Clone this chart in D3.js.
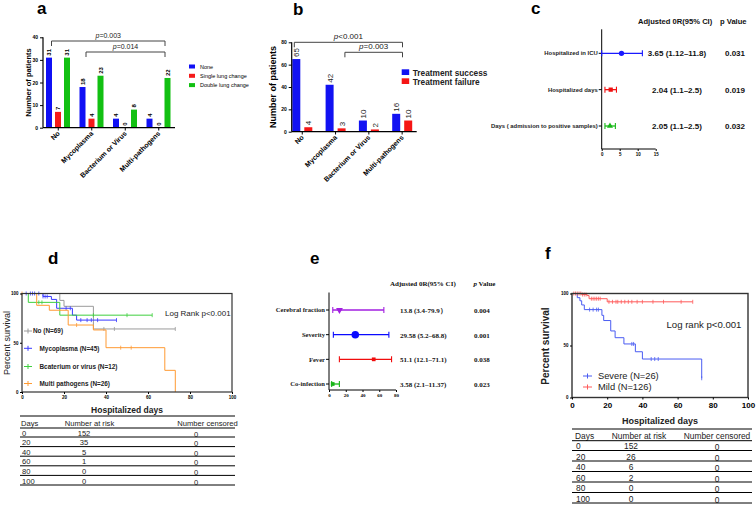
<!DOCTYPE html>
<html>
<head>
<meta charset="utf-8">
<script src="https://cdn.jsdelivr.net/npm/d3@7"></script>
<style>
body { margin: 0; background: #fff; }
text { font-family: "Liberation Sans", Arial, sans-serif; }
</style>
</head>
<body>
<div id="chart"></div>
<script>
// ---- panel a: lung change by pathogen
const groups = ["No", "Mycoplasma", "Bacterium or Virus", "Multi-pathogens"];
const seriesA = ["None", "Single lung change", "Double lung change"];
const noneA = [31, 18, 4, 4];
const singleA = [7, 4, 0, 0];
const doubleA = [31, 23, 8, 22];
const ticksA = [0, 10, 20, 30, 40];

// ---- panel b: treatment outcome by pathogen
const seriesB = ["Treatment success", "Treatment failure"];
const successB = [65, 42, 10, 16];
const failureB = [4, 3, 2, 10];
const ticksB = [0, 20, 40, 60, 80];

// ---- panel c: forest plot
const factorsC = ["Hospitalized in ICU", "Hospitalized days", "Days ( admission to positive samples)"];
const pointC = [5.5, 2.5, 2.3];
const lowC = [0, 0.9, 0.9];
const highC = [11.3, 4.1, 3.8];
const orTextC = ["3.65 (1.12\u201311.8)", "2.04 (1.1\u20132.5)", "2.05 (1.1\u20132.5)"];
const pTextC = ["0.031", "0.019", "0.032"];
const ticksC = [0, 5, 10, 15];

// ---- panel e: forest plot
const factorsE = ["Cerebral fraction", "Severity", "Fever", "Co-infection"];
const pointE = [12.5, 31.4, 53.4, 4.4];
const lowE = [4.5, 5.2, 12.4, 3.2];
const highE = [65.5, 71.5, 74.7, 12.4];
const orTextE = ["13.8 (3.4-79.9\uFF09", "29.58 (5.2\u201368.8)", "51.1 (12.1\u201371.1)", "3.58 (2.1\u201311.37)"];
const pTextE = ["0.004", "0.001", "0.038", "0.023"];
const ticksE = [0, 20, 40, 60, 80];

// ---- panel d: survival by pathogen  (steps = [day, percent])
const namesD = ["No (N=69)", "Mycoplasma (N=45)", "Bcaterium or virus (N=12)", "Multi pathogens (N=26)"];
const stepsNo = [[0, 100], [18, 93], [20, 87], [34, 64]];
const censNo = [39, 44, 73];
const stepsMyco = [[0, 100], [10, 97], [14, 94], [16.5, 85], [24, 78], [26, 73]];
const censMyco = [2, 4, 5, 6, 8, 10, 11, 12, 21, 23, 28, 31, 33, 36, 45];
const stepsBact = [[0, 100], [3, 91], [18, 78]];
const censBact = [8, 9.5, 34, 50, 62];
const stepsMulti = [[0, 100], [7, 88], [13, 83], [22, 68], [34, 63], [40, 45], [68, 22], [73, 0]];
const censMulti = [0, 26, 47, 52];
const endD = [73, 45, 62, 73];

// ---- panel f: survival by severity
const namesF = ["Severe (N=26)", "Mild (N=126)"];
const stepsSevere = [[0, 100], [3, 96], [4.5, 93], [5.5, 89], [7, 84.5], [17, 79], [18, 74], [22, 64], [24.5, 57.5], [29.5, 51.5], [36, 44], [40, 37], [73.7, 18.5]];
const censSevere = [10, 12, 14, 15, 34, 35, 45, 47, 49, 73.7];
const stepsMild = [[0, 100], [5.5, 99], [8.6, 98], [9.7, 95], [20, 92]];
const censMild = [1, 2, 3, 4, 5, 6, 7, 8, 11, 12, 13, 14, 15, 16, 21, 23, 25, 26, 28, 30, 32, 34, 37, 40, 46, 52, 62, 68.6];
const endF = [73.7, 68.6];

// ---- risk tables
const riskDays = [0, 20, 40, 60, 80, 100];
const atRiskD = [152, 35, 5, 1, 0, 0];
const censoredD = [0, 0, 0, 0, 0, 0];
const atRiskF = [152, 26, 6, 2, 0, 0];
const censoredF = [0, 0, 0, 0, 0, 0];

const svg = d3.select("#chart").append("svg")
    .attr("width", 756)
    .attr("height", 505)
    .style("background-color", "white");

function letter(t, x, y) {
    svg.append("text").attr("x", x).attr("y", y)
        .attr("font-size", 17).attr("font-weight", "bold").text(t);
}

function styleAxis(g, size, bold, family) {
    g.selectAll("text")
        .attr("font-size", size)
        .attr("font-weight", bold ? "bold" : "normal")
        .attr("fill", "#000");
    if (family) g.selectAll("text").style("font-family", family);
    g.selectAll("line").attr("stroke", "#000");
    g.select(".domain").remove();
}

function hline(x1, x2, y, w, color) {
    return svg.append("line").attr("x1", x1).attr("x2", x2).attr("y1", y).attr("y2", y)
        .attr("stroke", color || "#000").attr("stroke-width", w || 1);
}
function vline(x, y1, y2, w, color) {
    return svg.append("line").attr("x1", x).attr("x2", x).attr("y1", y1).attr("y2", y2)
        .attr("stroke", color || "#000").attr("stroke-width", w || 1);
}

function bracket(x1, x2, y, op, val, size) {
    svg.append("path")
        .attr("d", "M" + x1 + "," + (y + 5) + "V" + y + "H" + x2 + "V" + (y + 5))
        .attr("fill", "none").attr("stroke", "#444").attr("stroke-width", 1);
    const t = svg.append("text").attr("x", (x1 + x2) / 2).attr("y", y - 3)
        .attr("text-anchor", "middle").attr("font-size", size).attr("fill", "#222");
    t.append("tspan").attr("font-style", "italic").text("p");
    t.append("tspan").text(op + val);
}

// ================= panel a =================
function drawA() {
    letter("a", 37, 14);
    const x = d3.scaleBand().domain(groups).range([41.5, 175.5]);
    const inner = d3.scaleBand().domain(seriesA).range([4.5, 28.5]).paddingInner(1 / 3);
    const y = d3.scaleLinear().domain([0, 40]).range([127.7, 37.3]);
    const colors = ["#1010f5", "#f51a1a", "#12c012"];
    const vals = [noneA, singleA, doubleA];

    seriesA.forEach((s, si) => {
        groups.forEach((g, gi) => {
            const v = vals[si][gi];
            const bx = x(g) + inner(s);
            svg.append("rect").attr("x", bx).attr("y", y(v))
                .attr("width", inner.bandwidth()).attr("height", y(0) - y(v))
                .attr("fill", colors[si]);
            svg.append("text")
                .attr("transform", "translate(" + (bx + inner.bandwidth() / 2 + 2) + "," + (y(v) - 2) + ") rotate(-90)")
                .attr("font-size", 6).attr("font-weight", "bold").text(v);
        });
    });

    const gy = svg.append("g").attr("transform", "translate(43,0)")
        .call(d3.axisLeft(y).tickValues(ticksA).tickSize(3).tickPadding(2));
    styleAxis(gy, 5, true);
    vline(43, 37.3, 127.7, 1.2);
    hline(43, 175, 127.7, 1.2);

    groups.forEach(g => {
        const cx = x(g) + x.bandwidth() / 2;
        vline(cx, 127.7, 130.5);
        svg.append("text")
            .attr("transform", "translate(" + (cx + 2) + ",134) rotate(-45)")
            .attr("text-anchor", "end").attr("font-size", 7).attr("font-weight", "bold").text(g);
    });

    svg.append("text").attr("transform", "translate(31,82.5) rotate(-90)")
        .attr("text-anchor", "middle").attr("font-size", 7.5).attr("font-weight", "bold")
        .text("Number of patients");

    bracket(x("No") + 10, x("Multi-pathogens") + 23, 41, "=", "0.003", 7);
    bracket(x("Mycoplasma") + 11, x("Multi-pathogens") + 23, 52, "=", "0.014", 7);

    seriesA.forEach((s, i) => {
        svg.append("rect").attr("x", 189).attr("y", 64.5 + i * 9.3).attr("width", 6).attr("height", 4)
            .attr("fill", colors[i]);
        svg.append("text").attr("x", 200).attr("y", 68.5 + i * 9.3).attr("font-size", 5.5).text(s);
    });
}

// ================= panel b =================
function drawB() {
    letter("b", 293, 15);
    const x = d3.scaleBand().domain(groups).range([285.6, 418.8]);
    const inner = d3.scaleBand().domain(seriesB).range([6.7, 26.7]).paddingInner(1 / 3);
    const y = d3.scaleLinear().domain([0, 80]).range([131.7, 42.3]);
    const colors = ["#1212f2", "#f51515"];
    const vals = [successB, failureB];

    seriesB.forEach((s, si) => {
        groups.forEach((g, gi) => {
            const v = vals[si][gi];
            const bx = x(g) + inner(s);
            svg.append("rect").attr("x", bx).attr("y", y(v))
                .attr("width", inner.bandwidth()).attr("height", y(0) - y(v))
                .attr("fill", colors[si]);
            svg.append("text")
                .attr("transform", "translate(" + (bx + inner.bandwidth() / 2 + 3) + "," + (y(v) - 2) + ") rotate(-90)")
                .attr("font-size", 8).attr("fill", "#222").text(v);
        });
    });

    const gy = svg.append("g").attr("transform", "translate(291.7,0)")
        .call(d3.axisLeft(y).tickValues(ticksB).tickSize(3).tickPadding(2));
    styleAxis(gy, 5, true);
    vline(291.7, 42.3, 131.7, 1.2);
    hline(291.7, 416.7, 131.7, 1.2);

    groups.forEach(g => {
        const cx = x(g) + x.bandwidth() / 2;
        vline(cx, 131.7, 134.5);
        svg.append("text")
            .attr("transform", "translate(" + (cx + 2) + ",138) rotate(-45)")
            .attr("text-anchor", "end").attr("font-size", 7).attr("font-weight", "bold").text(g);
    });

    svg.append("text").attr("transform", "translate(276,87) rotate(-90)")
        .attr("text-anchor", "middle").attr("font-size", 9).attr("font-weight", "bold")
        .text("Number of patients");

    bracket(x("No") + 8.7, x("Multi-pathogens") + 17, 42.3, "<", "0.001", 8);
    bracket(x("Mycoplasma") + 26, x("Multi-pathogens") + 17, 52.3, "=", "0.003", 8);

    seriesB.forEach((s, i) => {
        svg.append("rect").attr("x", 401.7).attr("y", 69.3 + i * 9).attr("width", 7.5).attr("height", 5.7)
            .attr("fill", colors[i]);
        svg.append("text").attr("x", 412.7).attr("y", 75.5 + i * 9).attr("font-size", 8.3)
            .attr("font-weight", "bold").attr("fill", "#222").text(s);
    });
}

// ================= forest plots =================
function drawForest(cfg) {
    const x = d3.scaleLinear().domain(cfg.domain).range(cfg.xRange);
    const y = d3.scalePoint().domain(cfg.factors).range(cfg.yRange);
    const x0 = cfg.xRange[0];
    const fam = cfg.family;

    vline(x0, cfg.axisTop, cfg.axisBottom, 1);
    hline(x0, cfg.xRange[1], cfg.axisBottom, 1);
    const gx = svg.append("g").attr("transform", "translate(0," + cfg.axisBottom + ")")
        .call(d3.axisBottom(x).tickValues(cfg.ticks).tickSize(2).tickPadding(1.5));
    styleAxis(gx, cfg.tickSize, true, fam);

    cfg.factors.forEach((f, i) => {
        const yy = y(f);
        hline(x0 - 3, x0, yy, 1);
        svg.append("text").attr("x", x0 - 4).attr("y", yy + cfg.labelSize * 0.35)
            .attr("text-anchor", "end").attr("font-size", cfg.labelSize).attr("font-weight", "bold")
            .style("font-family", fam).attr("fill", "#222").text(f);

        const c = cfg.colors[i];
        const g = svg.append("g").attr("stroke", c).attr("fill", c);
        g.append("line").attr("x1", x(cfg.low[i])).attr("x2", x(cfg.high[i]))
            .attr("y1", yy).attr("y2", yy).attr("stroke-width", 1.3);
        [cfg.low[i], cfg.high[i]].forEach(v => {
            g.append("line").attr("x1", x(v)).attr("x2", x(v))
                .attr("y1", yy - cfg.cap).attr("y2", yy + cfg.cap).attr("stroke-width", 1.1);
        });
        const sym = d3.symbol().type(cfg.shapes[i]).size(cfg.markSize[i]);
        g.append("path").attr("d", sym).attr("stroke", "none")
            .attr("transform", "translate(" + x(cfg.point[i]) + "," + yy + ")" + (cfg.flip[i] ? " rotate(180)" : ""));

        svg.append("text").attr("x", cfg.orX).attr("y", yy + 3).attr("text-anchor", cfg.orAnchor)
            .attr("font-size", cfg.valSize).attr("font-weight", "bold").style("font-family", fam)
            .attr("fill", "#111").text(cfg.orText[i]);
        svg.append("text").attr("x", cfg.pX).attr("y", yy + 3).attr("text-anchor", cfg.orAnchor)
            .attr("font-size", cfg.valSize).attr("font-weight", "bold").style("font-family", fam)
            .attr("fill", "#111").text(cfg.pText[i]);
    });

    svg.append("text").attr("x", cfg.headX).attr("y", cfg.headY)
        .attr("font-size", cfg.headSize).attr("font-weight", "bold").style("font-family", fam)
        .attr("fill", "#111").text("Adjusted 0R(95% CI)");
    const pv = svg.append("text").attr("x", cfg.headPX).attr("y", cfg.headY)
        .attr("font-size", cfg.headSize).attr("font-weight", "bold").style("font-family", fam).attr("fill", "#111");
    pv.append("tspan").attr("font-style", cfg.italicP ? "italic" : "normal").text("p");
    pv.append("tspan").text(cfg.italicP ? "  Value" : " Value");
}

function drawC() {
    letter("c", 531, 14);
    drawForest({
        factors: factorsC, point: pointC, low: lowC, high: highC,
        orText: orTextC, pText: pTextC, ticks: ticksC,
        domain: [0, 15], xRange: [601.7, 655.7], yRange: [53.3, 126],
        axisTop: 29.3, axisBottom: 149, tickSize: 4.5, labelSize: 5.9,
        colors: ["#1a1aff", "#f01010", "#1ab81a"],
        shapes: [d3.symbolCircle, d3.symbolSquare, d3.symbolTriangle],
        markSize: [22, 18, 16], flip: [false, false, false], cap: 3,
        orX: 677, orAnchor: "middle", pX: 735, valSize: 8,
        headX: 638, headPX: 720, headY: 24, headSize: 7.6, italicP: false
    });
}

function drawE() {
    letter("e", 310, 264);
    const serif = "'Liberation Serif', 'Times New Roman', serif";
    drawForest({
        factors: factorsE, point: pointE, low: lowE, high: highE,
        orText: orTextE, pText: pTextE, ticks: ticksE,
        domain: [0, 80], xRange: [329, 396], yRange: [310, 384],
        axisTop: 292.5, axisBottom: 390, tickSize: 5, labelSize: 6.6,
        colors: ["#a21fe0", "#0a0aff", "#f00d0d", "#17b517"],
        shapes: [d3.symbolTriangle, d3.symbolCircle, d3.symbolSquare, d3.symbolSquare],
        markSize: [20, 45, 14, 14], flip: [true, false, false, false], cap: 3,
        orX: 400, orAnchor: "start", pX: 474, valSize: 7,
        headX: 390, headPX: 473.5, headY: 286, headSize: 7, italicP: true,
        family: serif
    });
}

// ================= survival plots =================
function kmPath(steps, end) {
    const pts = steps.slice();
    pts.push([end, steps[steps.length - 1][1]]);
    return pts;
}
function survAt(steps, t) {
    let s = 100;
    steps.forEach(d => { if (d[0] <= t) s = d[1]; });
    return s;
}

function drawKM(cfg) {
    const x = d3.scaleLinear().domain([0, 100]).range(cfg.xRange);
    const y = d3.scaleLinear().domain([0, 100]).range(cfg.yRange);
    const line = d3.line().x(d => x(d[0])).y(d => y(d[1])).curve(d3.curveStepAfter);

    cfg.curves.forEach(c => {
        svg.append("path").attr("d", line(kmPath(c.steps, c.end)))
            .attr("fill", "none").attr("stroke", c.color).attr("stroke-width", cfg.lw);
        c.cens.forEach(t => {
            const yy = y(survAt(c.steps, t));
            vline(x(t), yy - 2, yy + 2, 0.8, c.color);
        });
    });

    svg.append("rect").attr("x", cfg.xRange[0]).attr("y", cfg.yRange[1])
        .attr("width", cfg.xRange[1] - cfg.xRange[0]).attr("height", cfg.yRange[0] - cfg.yRange[1])
        .attr("fill", "none").attr("stroke", "#333").attr("stroke-width", cfg.frame);

    const gx = svg.append("g").attr("transform", "translate(0," + cfg.yRange[0] + ")")
        .call(d3.axisBottom(x).tickValues([0, 20, 40, 60, 80, 100]).tickSize(2).tickPadding(cfg.xPad));
    styleAxis(gx, cfg.xTickSize, true);
    const gy = svg.append("g").attr("transform", "translate(" + cfg.xRange[0] + ",0)")
        .call(d3.axisLeft(y).tickValues([0, 50, 100]).tickSize(2).tickPadding(1.5));
    styleAxis(gy, 4.5, true);
}

function drawRisk(cfg) {
    hline(cfg.x1, cfg.x2, cfg.top, 1);
    const head = [["Days", cfg.dayX, "start"], ["Number at risk", cfg.riskHeadX, "middle"], ["Number censored", cfg.censHeadX, "middle"]];
    head.forEach(h => {
        svg.append("text").attr("x", h[1]).attr("y", cfg.headY).attr("text-anchor", h[2])
            .attr("font-size", cfg.size).attr("fill", "#222").text(h[0]);
    });
    hline(cfg.x1, cfg.x2, cfg.headLine, 1);
    riskDays.forEach((d, i) => {
        const ly = cfg.row0 + i * cfg.step;
        svg.append("text").attr("x", cfg.dayX + 1).attr("y", ly - 1.5).attr("font-size", cfg.size).attr("fill", "#222").text(d);
        svg.append("text").attr("x", cfg.riskX).attr("y", ly - 1.5).attr("text-anchor", "middle")
            .attr("font-size", cfg.size).attr("fill", "#222").text(cfg.risk[i]);
        svg.append("text").attr("x", cfg.censX).attr("y", ly - 0.5).attr("text-anchor", "middle")
            .attr("font-size", cfg.size).attr("fill", "#222").text(cfg.cens[i]);
        hline(cfg.x1, cfg.x2, ly, 1);
    });
}

function drawD() {
    letter("d", 48, 264);
    const colors = ["#9a9a9a", "#3a3aff", "#3fcf3f", "#ff9a33"];
    drawKM({
        xRange: [22, 232], yRange: [392, 293.5], lw: 1, frame: 1.2, xTickSize: 4.5, xPad: 1.5,
        curves: [
            { steps: stepsNo, cens: censNo, end: endD[0], color: colors[0] },
            { steps: stepsMyco, cens: censMyco, end: endD[1], color: colors[1] },
            { steps: stepsBact, cens: censBact, end: endD[2], color: colors[2] },
            { steps: stepsMulti, cens: censMulti, end: endD[3], color: colors[3] }
        ]
    });

    const legY = [331, 348.3, 366.5, 383.5];
    namesD.forEach((n, i) => {
        hline(24, 32, legY[i], 1, colors[i]);
        vline(28, legY[i] - 2.5, legY[i] + 2.5, 1, colors[i]);
        svg.append("text").attr("x", i === 0 ? 33 : 39.5).attr("y", legY[i] + 2.3)
            .attr("font-size", 6.4).attr("font-weight", "bold").attr("fill", "#222").text(n);
    });

    svg.append("text").attr("x", 165).attr("y", 315.5).attr("font-size", 8).attr("fill", "#222")
        .text("Log Rank p<0.001");
    svg.append("text").attr("transform", "translate(10,343) rotate(-90)").attr("text-anchor", "middle")
        .attr("font-size", 9).attr("fill", "#222").text("Percent survival");
    svg.append("text").attr("x", 127).attr("y", 413).attr("text-anchor", "middle")
        .attr("font-size", 8.5).attr("font-weight", "bold").attr("fill", "#222").text("Hospitalized days");

    drawRisk({
        x1: 20, x2: 235, top: 416, headY: 425.5, headLine: 428, row0: 437, step: 9.6,
        dayX: 21, riskHeadX: 89.5, censHeadX: 207.5, riskX: 84, censX: 196, size: 7.6,
        risk: atRiskD, cens: censoredD
    });
}

function drawF() {
    letter("f", 545, 259);
    const colors = ["#4a5cf2", "#ff5a5a"];
    drawKM({
        xRange: [572, 748], yRange: [397.5, 293.5], lw: 1, frame: 1.4, xTickSize: 8, xPad: 3,
        curves: [
            { steps: stepsSevere, cens: censSevere, end: endF[0], color: colors[0] },
            { steps: stepsMild, cens: censMild, end: endF[1], color: colors[1] }
        ]
    });

    const legY = [376, 387];
    namesF.forEach((n, i) => {
        hline(583, 592, legY[i], 1, colors[i]);
        vline(587.5, legY[i] - 2.5, legY[i] + 2.5, 1, colors[i]);
        svg.append("text").attr("x", 598).attr("y", legY[i] + 3.3).attr("font-size", 9.3).attr("fill", "#222").text(n);
    });

    svg.append("text").attr("x", 666.5).attr("y", 327.5).attr("font-size", 9.6).attr("fill", "#222")
        .text("Log rank p<0.001");
    svg.append("text").attr("transform", "translate(549,346) rotate(-90)").attr("text-anchor", "middle")
        .attr("font-size", 10).attr("font-weight", "bold").attr("fill", "#222").text("Percent survival");
    svg.append("text").attr("x", 660).attr("y", 424).attr("text-anchor", "middle")
        .attr("font-size", 9).attr("font-weight", "bold").attr("fill", "#222").text("Hospitalized days");

    drawRisk({
        x1: 572, x2: 752, top: 429, headY: 439, headLine: 440.7, row0: 450.5, step: 10.5,
        dayX: 575, riskHeadX: 639, censHeadX: 717, riskX: 631, censX: 717, size: 8.4,
        risk: atRiskF, cens: censoredF
    });
}

drawA();
drawB();
drawC();
drawD();
drawE();
drawF();
</script>
</body>
</html>
